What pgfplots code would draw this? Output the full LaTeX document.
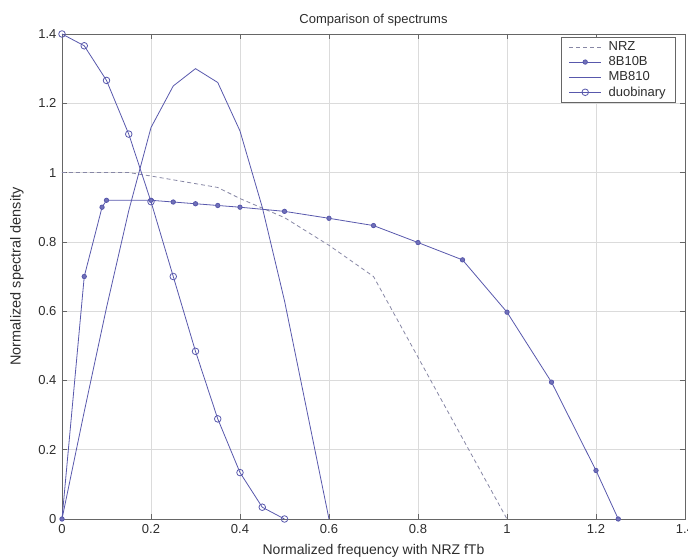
\documentclass[border=0pt]{standalone}
\usepackage{pgfplots}
\pgfplotsset{compat=1.18}
\usepackage{fontspec}
\setmainfont{Liberation Sans}
\definecolor{lineblue}{RGB}{88,88,172}
\definecolor{nrzcol}{RGB}{135,135,165}
\definecolor{txt}{RGB}{45,45,45}
\begin{document}
\begin{tikzpicture}
\fontsize{13}{15}\selectfont
\path[use as bounding box] (-62pt,-40pt) rectangle (626pt,519pt);
\begin{axis}[
  scale only axis,
  width=623pt, height=485pt,
  xmin=0, xmax=1.4, ymin=0, ymax=1.4,
  xtick={0,0.2,0.4,0.6,0.8,1,1.2,1.4},
  ytick={0,0.2,0.4,0.6,0.8,1,1.2,1.4},
  /pgf/number format/assume math mode=true,
  grid=major,
  major grid style={gray!28, line width=0.5pt},
  axis line style={gray!80!black, line width=0.7pt},
  tick style={gray!80!black, line width=0.6pt},
  major tick length=5pt,
  tick align=inside,
  xtick pos=both, ytick pos=both,
  ticklabel style={text=txt, font=\fontsize{13}{15}\selectfont},
  xticklabel style={yshift=-1pt},
  yticklabel style={xshift=-1pt},
  title={Comparison of spectrums},
  title style={text=txt, font=\fontsize{13}{15}\selectfont, yshift=-3pt},
  xlabel={Normalized frequency with NRZ fTb},
  ylabel={Normalized spectral density},
  xlabel style={text=txt, font=\fontsize{14}{16}\selectfont, yshift=-2pt},
  ylabel style={text=txt, font=\fontsize{14.5}{16}\selectfont, yshift=6pt},
  clip=false,
  legend style={at={(0.9855,0.994)}, anchor=north east, draw=gray!80!black, line width=0.5pt,
    font=\fontsize{13}{15}\selectfont, text=txt, row sep=0pt, inner ysep=2.5pt, inner xsep=8pt,
    /tikz/every odd column/.append style={column sep=5pt}},
  legend cell align=left,
  legend image code/.code={\draw[#1] (0pt,0pt) -- (32pt,0pt); \draw[#1, only marks] plot coordinates {(16pt,0pt)};},
]
\addplot[nrzcol, line width=0.8pt, dash pattern=on 4pt off 3pt] coordinates {
(0,1) (0.1,1) (0.15,1) (0.2,0.99) (0.3,0.968) (0.35,0.957) (0.4,0.925) (0.5,0.87)
(0.6,0.79) (0.7,0.70) (0.8,0.467) (0.9,0.233) (1,0)};
\addlegendentry{NRZ}
\addplot[lineblue, line width=0.8pt, mark=*, mark size=2.2pt, mark options={solid, fill=lineblue!85}] coordinates {
(0,0) (0.05,0.70) (0.09,0.90) (0.1,0.92) (0.2,0.92) (0.25,0.915) (0.3,0.91) (0.35,0.905)
(0.4,0.90) (0.5,0.888) (0.6,0.868) (0.7,0.847) (0.8,0.798) (0.9,0.748) (1,0.597)
(1.1,0.395) (1.2,0.14) (1.25,0)};
\addlegendentry{8B10B}
\addplot[lineblue, line width=0.8pt] coordinates {
(0,0) (0.05,0.31) (0.1,0.61) (0.15,0.89) (0.2,1.13) (0.25,1.25) (0.3,1.30) (0.35,1.26)
(0.4,1.12) (0.45,0.90) (0.5,0.63) (0.6,0)};
\addlegendentry{MB810}
\addplot[lineblue, line width=0.8pt, mark=o, mark size=3.3pt, mark options={solid, fill=lineblue!12}] coordinates {
(0,1.4) (0.05,1.366) (0.1,1.266) (0.15,1.111) (0.2,0.916) (0.25,0.70) (0.3,0.484)
(0.35,0.289) (0.4,0.134) (0.45,0.034) (0.5,0)};
\addlegendentry{duobinary}
\end{axis}
\end{tikzpicture}
\end{document}
